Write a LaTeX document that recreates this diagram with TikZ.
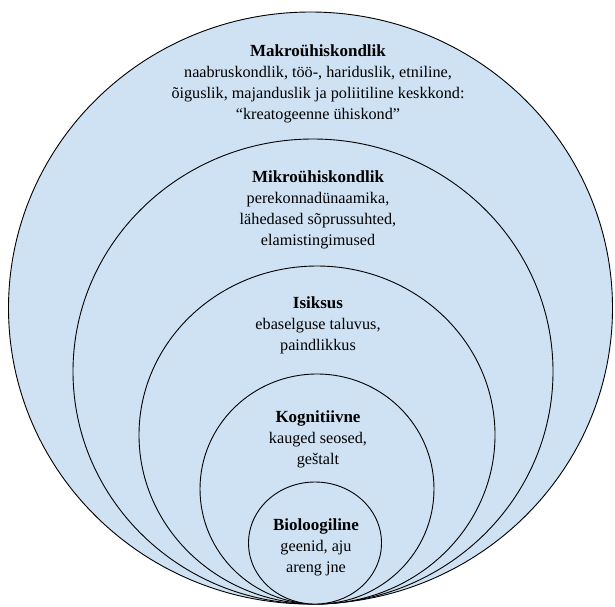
\documentclass[tikz,border=0pt]{standalone}
\usepackage{fontspec}
\setmainfont{Liberation Serif}
\usetikzlibrary{shapes.geometric}
\definecolor{ringfill}{HTML}{CFE2F3}
\newcommand{\headline}[1]{{\fontsize{17}{21}\selectfont\textbf{#1}}}
\begin{document}
\begin{tikzpicture}[x=1pt,y=-1pt,
  ring/.style={ellipse, draw=black, line width=0.9pt, fill=ringfill, inner sep=0pt, outer sep=0pt},
  label/.style={align=center, inner sep=0pt, font=\fontsize{16.2}{21}\selectfont}]
\useasboundingbox (0,0) rectangle (615,606);
\node[ring, minimum width=604pt, minimum height=592pt] (makro) at (310.5,308) {};
\node[ring, minimum width=480pt, minimum height=465pt] (mikro) at (313,371.5) {};
\node[ring, minimum width=356pt, minimum height=338pt] (isiksus) at (317,435) {};
\node[ring, minimum width=234pt, minimum height=230pt] (kogn) at (317,489) {};
\node[ring, minimum width=133pt, minimum height=122pt] (bio) at (315,543) {};
\node[label] (tmakro) at (318,84) {\headline{Makroühiskondlik}\\naabruskondlik, töö-, hariduslik, etniline,\\õiguslik, majanduslik ja poliitiline keskkond:\\“kreatogeenne ühiskond”};
\node[label] (tmikro) at (318,210) {\headline{Mikroühiskondlik}\\perekonnadünaamika,\\lähedased sõprussuhted,\\elamistingimused};
\node[label] (tisik) at (318,325) {\headline{Isiksus}\\ebaselguse taluvus,\\paindlikkus};
\node[label] (tkogn) at (318,439) {\headline{Kognitiivne}\\kauged seosed,\\geštalt};
\node[label] (tbio) at (316,547) {\headline{Bioloogiline}\\geenid, aju\\areng jne};
\end{tikzpicture}
\end{document}
